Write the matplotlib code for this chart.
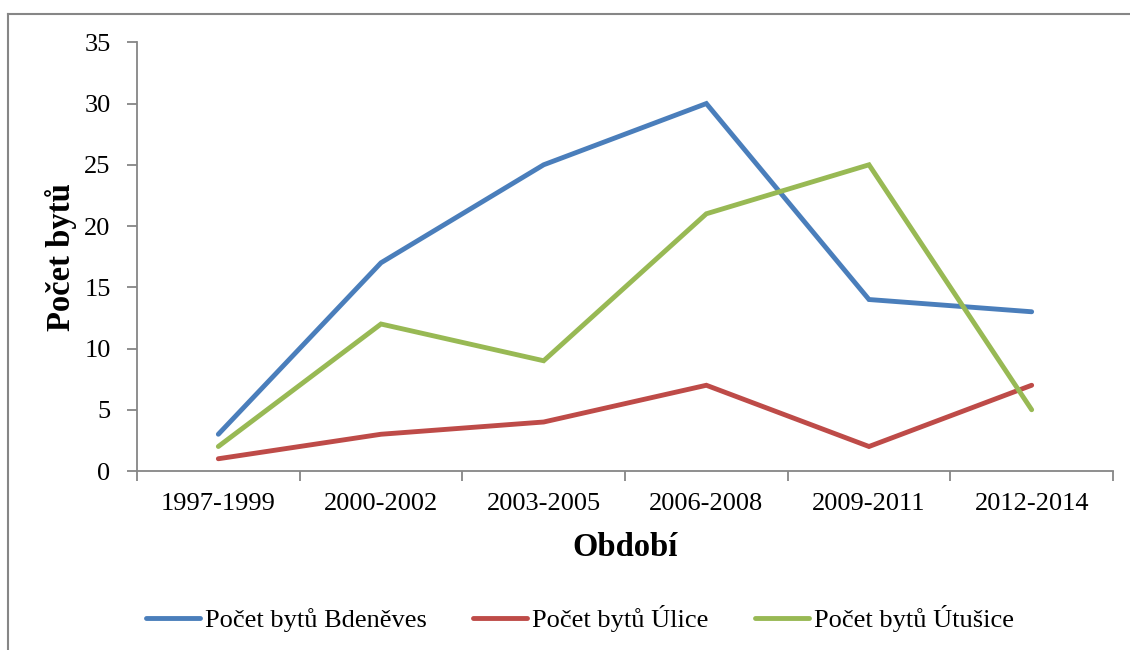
import matplotlib
matplotlib.use("Agg")
import matplotlib.pyplot as plt
from matplotlib.lines import Line2D

categories = ["1997-1999", "2000-2002", "2003-2005", "2006-2008", "2009-2011", "2012-2014"]
bdeneves = [3, 17, 25, 30, 14, 13]
ulice = [1, 3, 4, 7, 2, 7]
utusice = [2, 12, 9, 21, 25, 5]
series_names = ["Počet bytů Bdeněves", "Počet bytů Úlice", "Počet bytů Útušice"]
colors = ["#4A7EBB", "#BE4B48", "#98B954"]
y_ticks = [0, 5, 10, 15, 20, 25, 30, 35]

plt.rcParams['font.family'] = ['Liberation Serif', 'DejaVu Serif']

fig = plt.figure(figsize=(11.3, 6.5), dpi=100)
ax = fig.add_axes([137/1130, 1-471/650, (1113-137)/1130, (471-42.3)/650])

x = list(range(len(categories)))
for vals, name, c in zip([bdeneves, ulice, utusice], series_names, colors):
    ax.plot(x, vals, color=c, lw=3.5, label=name, solid_capstyle='round', solid_joinstyle='miter')

ax.set_xlim(-0.5, len(categories) - 0.5)
ax.set_ylim(0, 35)
ax.set_yticks(y_ticks)
ax.set_xticks([i - 0.5 for i in range(len(categories) + 1)], minor=False)
ax.set_xticklabels([])
ax.set_xticks(x, minor=True)
ax.set_xticklabels(categories, minor=True)
ax.tick_params(axis='x', which='minor', length=0, labelsize=19, pad=16)
ax.tick_params(axis='x', which='major', length=7, width=1.3, color='#868686', direction='out')
ax.tick_params(axis='y', length=7, width=1.3, color='#868686', labelsize=19, pad=12)

for s in ['top', 'right']:
    ax.spines[s].set_visible(False)
for s in ['left', 'bottom']:
    ax.spines[s].set_color('#868686')
    ax.spines[s].set_linewidth(1.3)

ax.set_xlabel("Období", fontsize=23.5, fontweight='bold', labelpad=12)
ax.set_ylabel("Počet bytů", fontsize=23.5, fontweight='bold', labelpad=5)

fig.legend(loc='center', bbox_to_anchor=(580/1130, 1-619/650), ncol=3, frameon=False,
           fontsize=19, handlelength=2.05, handletextpad=0.2, columnspacing=1.75)

# outer chart border (top and left visible)
fig.add_artist(Line2D([7.5/1130, 7.5/1130], [0, 1-13.5/650], transform=fig.transFigure, color='#868686', lw=1.5))
fig.add_artist(Line2D([7.5/1130, 1], [1-13.5/650, 1-13.5/650], transform=fig.transFigure, color='#868686', lw=1.5))

fig.savefig("out.png", dpi=100)
